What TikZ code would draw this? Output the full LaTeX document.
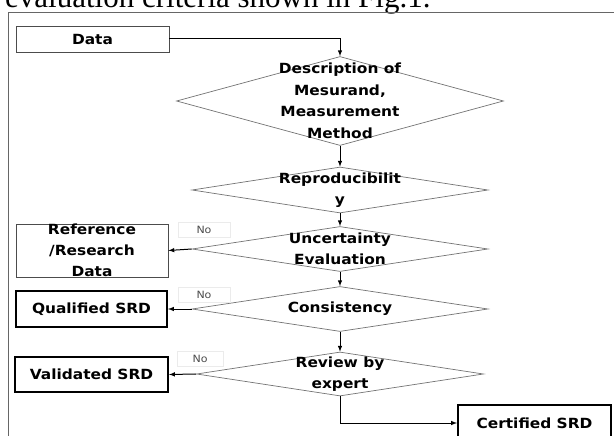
\documentclass[tikz,border=0pt]{standalone}
\usepackage{fontspec}
\setmainfont{Liberation Serif}
\newfontfamily\capfont{Liberation Serif}
\newfontfamily\flowfont[FakeStretch=1.1]{DejaVu Sans}
\usetikzlibrary{shapes.geometric}

\begin{document}
\begin{tikzpicture}[
        x=1pt, y=-1pt,
        box/.style={rectangle, draw=black!70, line width=0.8pt, inner sep=0pt, align=center, font=\flowfont\bfseries\fontsize{14}{21}\selectfont},
        srdbox/.style={box, draw=black, line width=2pt},
        decision/.style={diamond, draw=black!55, line width=0.7pt, inner sep=0pt},
        dtext/.style={align=center, inner sep=0pt, font=\flowfont\bfseries\fontsize{14}{21.5}\selectfont},
        nolabel/.style={rectangle, draw=black!8, fill=white, text=black!70, inner sep=0pt, minimum width=52, minimum height=15, font=\flowfont\fontsize{10}{11}\selectfont},
        arrow/.style={-latex, line width=1pt}
    ]
        \useasboundingbox (0,0) rectangle (614,436);

        % Cut-off sentence above the figure and the frame
        \node[anchor=base west, inner sep=0pt, font=\capfont\fontsize{31}{36}\selectfont] (caption) at (5,8) {evaluation criteria shown in Fig.1.};
        \draw[black!60, line width=0.9pt] (8,436) |- (614,12);

        % Main column of decisions
        \node[box, minimum width=153, minimum height=26] (data) at (92.5,39) {Data};
        \node[decision, minimum width=327, minimum height=89, label={[dtext]center:{Description of\\Mesurand,\\Measurement\\Method}}] (desc) at (340,101) {};
        \node[decision, minimum width=296, minimum height=46, label={[dtext]center:{Reproducibilit\\y}}] (repro) at (340,190) {};
        \node[decision, minimum width=296, minimum height=45, label={[dtext]center:{Uncertainty\\Evaluation}}] (uncert) at (340,249) {};
        \node[decision, minimum width=296, minimum height=45, label={[dtext]center:{Consistency}}] (consist) at (340,309) {};
        \node[decision, minimum width=287, minimum height=44, label={[dtext]center:{Review by\\expert}}] (review) at (340,374) {};

        % Outcome boxes
        \node[box, minimum width=152, minimum height=53] (refdata) at (92,250.5) {Reference\\/Research\\Data};
        \node[srdbox, minimum width=151, minimum height=36] (qualified) at (91.5,309) {Qualified SRD};
        \node[srdbox, minimum width=153, minimum height=35] (validated) at (91.5,374.5) {Validated SRD};
        \node[srdbox, minimum width=153, minimum height=36] (certified) at (534.5,423) {Certified SRD};

        % Arrows down
        \draw[arrow] (data.east) -| (desc.north);
        \draw[arrow] (desc.south) -- (repro.north);
        \draw[arrow] (repro.south) -- (uncert.north);
        \draw[arrow] (uncert.south) -- (consist.north);
        \draw[arrow] (consist.south) -- (review.north);
        \draw[arrow] (review.south) |- (certified.west);

        % No branches
        \draw[arrow] (uncert.west) -- (refdata.east);
        \draw[arrow] (consist.west) -- (qualified.east);
        \draw[arrow] (review.west) -- (validated.east);
        \node[nolabel] (no1) at (204,230) {No};
        \node[nolabel] (no2) at (204,295) {No};
        \node[nolabel, minimum width=46] (no3) at (200,359) {No};

    \end{tikzpicture}
\end{document}
